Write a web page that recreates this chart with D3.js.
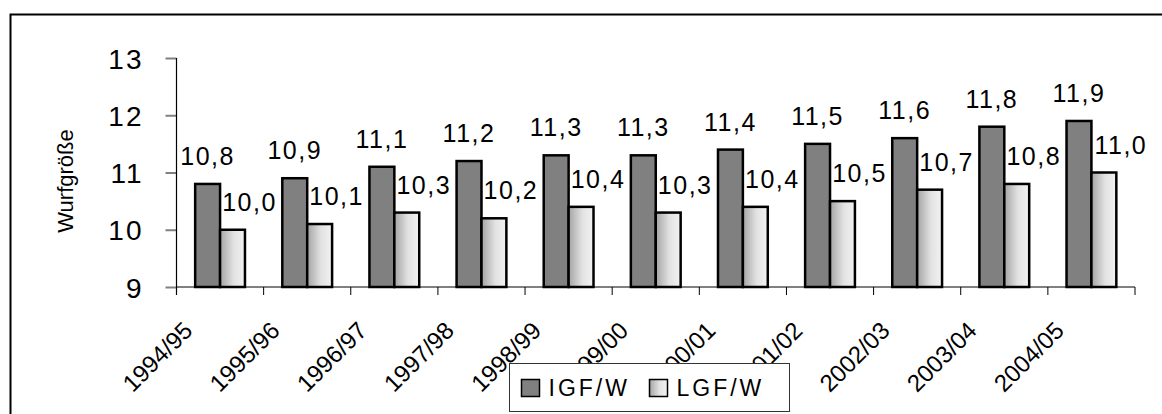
<!DOCTYPE html>
<html>
<head>
<meta charset="utf-8">
<script src="https://cdn.jsdelivr.net/npm/d3@7"></script>
<style>
  html, body { margin: 0; padding: 0; background: #fff; }
  svg { display: block; font-family: "Liberation Sans", Arial, sans-serif; }
</style>
</head>
<body>
<svg id="chart" width="1162" height="414"></svg>
<script>
// Litter size per season, two herd-book groups
const seasons = ["1994/95", "1995/96", "1996/97", "1997/98", "1998/99", "1999/00",
                 "2000/01", "2001/02", "2002/03", "2003/04", "2004/05"];
const igfW = [10.8, 10.9, 11.1, 11.2, 11.3, 11.3, 11.4, 11.5, 11.6, 11.8, 11.9];
const lgfW = [10.0, 10.1, 10.3, 10.2, 10.4, 10.3, 10.4, 10.5, 10.7, 10.8, 11.0];
const seriesNames = ["IGF/W", "LGF/W"];
const yTicks = [9, 10, 11, 12, 13];
const yTitle = "Wurfgröße";

const fmt = v => v.toFixed(1).replace(".", ",");

const svg = d3.select("#chart");
const W = 1162, H = 414;

// Outer frame (runs past the right and bottom edges)
svg.append("rect")
  .attr("x", 10.5).attr("y", 14.5)
  .attr("width", W + 20).attr("height", H + 20)
  .attr("fill", "none").attr("stroke", "#000").attr("stroke-width", 2);

const defs = svg.append("defs");
const grad = defs.append("linearGradient").attr("id", "lgfFill")
  .attr("x1", "0%").attr("x2", "100%").attr("y1", "0%").attr("y2", "0%");
grad.append("stop").attr("offset", "0%").attr("stop-color", "#a4a4a4");
grad.append("stop").attr("offset", "55%").attr("stop-color", "#e2e2e2");
grad.append("stop").attr("offset", "100%").attr("stop-color", "#f2f2f2");

const plot = { left: 176.5, right: 1135, top: 58, bottom: 287 };

const x = d3.scaleBand().domain(seasons).range([plot.left, plot.right]).paddingInner(0).paddingOuter(0);
const bw = x.bandwidth() / 3.5;           // gap width 150 %
const y = d3.scaleLinear().domain([9, 13]).range([plot.bottom, plot.top]);

// Y axis
const yAxis = d3.axisLeft(y).tickValues(yTicks).tickSize(11).tickPadding(22).tickFormat(d3.format("d"));
const gy = svg.append("g").attr("transform", `translate(${plot.left},0)`).call(yAxis);
gy.select(".domain").remove();
gy.selectAll(".tick line").attr("stroke", "#808080").attr("stroke-width", 2);
gy.selectAll(".tick text").attr("font-size", 28).attr("fill", "#000")
  .attr("font-family", "Liberation Sans, Arial, sans-serif").attr("letter-spacing", 2)
  .attr("dy", "0.36em");

// X axis
const xAxis = d3.axisBottom(x).tickSize(0).tickFormat("");
const gx = svg.append("g").attr("transform", `translate(0,${plot.bottom})`).call(xAxis);
gx.select(".domain").attr("stroke", "#808080").attr("stroke-width", 2)
  .attr("d", `M${plot.left},0H${plot.right}`);
gx.selectAll(".tick").remove();

// Category boundary ticks
const bounds = seasons.map(s => x(s)).concat([plot.right]);
svg.append("g").selectAll("line").data(bounds).join("line")
  .attr("x1", d => d).attr("x2", d => d)
  .attr("y1", plot.bottom).attr("y2", plot.bottom + 8)
  .attr("stroke", "#000").attr("stroke-width", 1);

// Y axis line
svg.append("line")
  .attr("x1", plot.left).attr("x2", plot.left)
  .attr("y1", plot.top).attr("y2", plot.bottom + 8)
  .attr("stroke", "#000").attr("stroke-width", 1.2);

// Bars
const groups = seasons.map((s, i) => ({ s, i }));
const g = svg.append("g");
const x0 = d => x(d.s) + (x.bandwidth() - 2 * bw) / 2;

g.selectAll(".igf").data(groups).join("rect")
  .attr("x", d => x0(d)).attr("width", bw)
  .attr("y", d => y(igfW[d.i])).attr("height", d => y(9) - y(igfW[d.i]))
  .attr("fill", "#808080").attr("stroke", "#000").attr("stroke-width", 2.5);

g.selectAll(".lgf").data(groups).join("rect")
  .attr("x", d => x0(d) + bw).attr("width", bw)
  .attr("y", d => y(lgfW[d.i])).attr("height", d => y(9) - y(lgfW[d.i]))
  .attr("fill", "url(#lgfFill)").attr("stroke", "#000").attr("stroke-width", 2.5);

// Value labels
const labelStyle = sel => sel.attr("font-size", 25).attr("letter-spacing", 1.5)
  .attr("text-anchor", "middle").attr("fill", "#000");

g.selectAll(".igfLab").data(groups).join("text")
  .attr("x", d => x0(d) + bw / 2)
  .attr("y", d => y(igfW[d.i]) - 19)
  .text(d => fmt(igfW[d.i])).call(labelStyle);

g.selectAll(".lgfLab").data(groups).join("text")
  .attr("x", d => x0(d) + bw * 1.5 + 17)
  .attr("y", d => y(lgfW[d.i]) - 19)
  .text(d => fmt(lgfW[d.i])).call(labelStyle);

// Rotated category labels
svg.append("g").selectAll("text").data(seasons).join("text")
  .attr("transform", d => `translate(${x(d) + x.bandwidth() / 2 - 26},${plot.bottom + 45}) rotate(-45)`)
  .attr("text-anchor", "end").attr("font-size", 24).attr("fill", "#000")
  .text(d => d);

// Y axis title
svg.append("text")
  .attr("transform", `translate(73,181) rotate(-90)`)
  .attr("text-anchor", "middle").attr("font-size", 22).attr("fill", "#000")
  .text(yTitle);

// Legend
const lg = svg.append("g").attr("transform", "translate(509.5,363.5)");
lg.append("rect").attr("width", 280).attr("height", 48)
  .attr("fill", "#fff").attr("stroke", "#333").attr("stroke-width", 1);
const legendItems = [
  { name: seriesNames[0], fill: "#808080", sx: 12, tx: 39 },
  { name: seriesNames[1], fill: "url(#lgfFill)", sx: 140, tx: 167 }
];
legendItems.forEach(it => {
  lg.append("rect").attr("x", it.sx).attr("y", 16).attr("width", 18).attr("height", 17)
    .attr("fill", it.fill).attr("stroke", "#000").attr("stroke-width", 1.5);
  lg.append("text").attr("x", it.tx).attr("y", 32)
    .attr("font-size", 23).attr("letter-spacing", 3).attr("fill", "#000")
    .text(it.name);
});
</script>
</body>
</html>
